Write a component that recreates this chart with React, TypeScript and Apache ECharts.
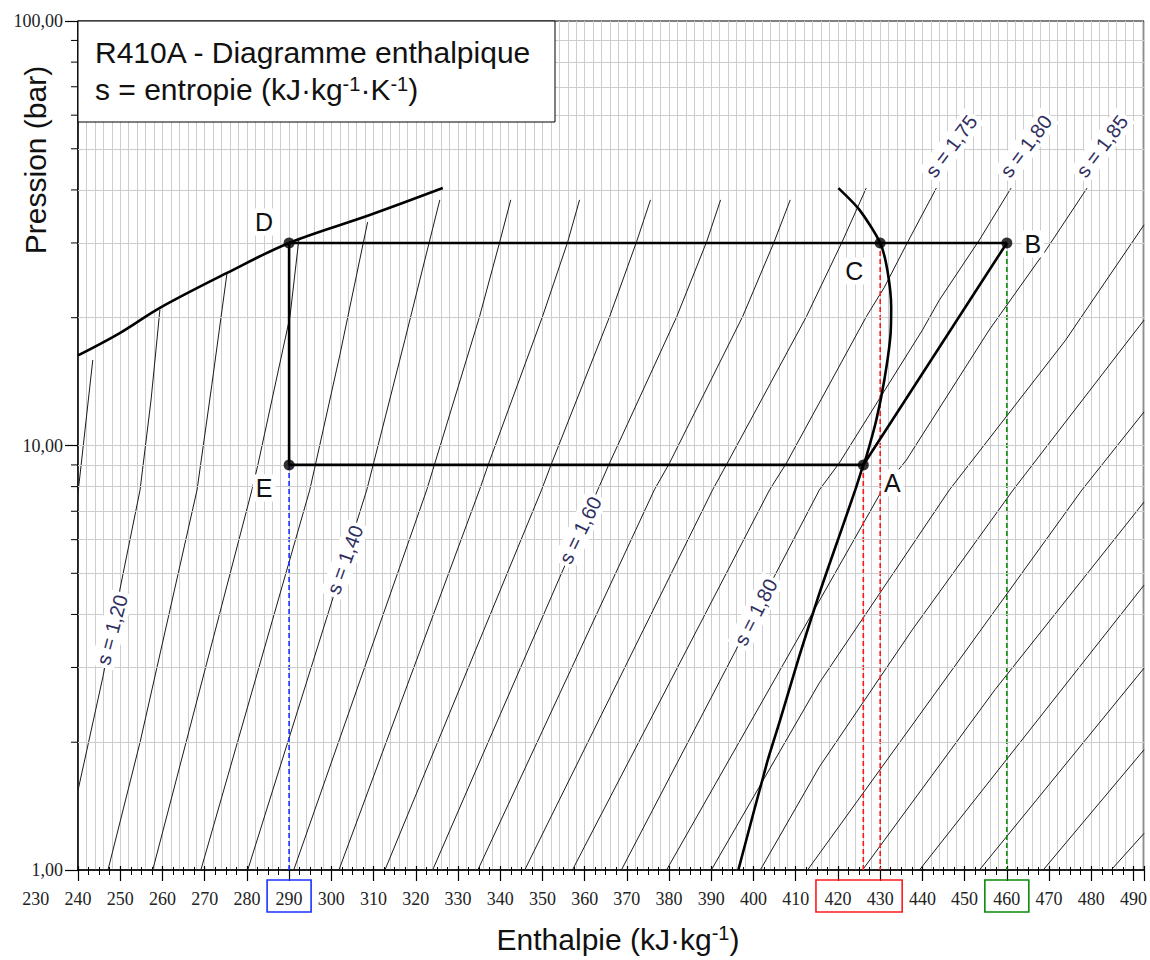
import React, { useEffect, useRef } from 'react';
import * as echarts from 'echarts';

// ---------- axes ----------
const H_MIN = 240;
const H_MAX = 492.5;
const P_MIN = 1;
const P_MAX = 100;
const H_MAJOR_STEP = 10;
const H_GRID_STEP = 2;
const H_MINOR_TICK_STEP = 2.5;
const EXTRA_H_LABEL = 230;
const P_GRID_VALUES = [2, 3, 4, 5, 6, 7, 8, 9, 10, 20, 30, 40, 50, 60, 70, 80, 90];
const P_MINOR_TICKS = [2, 3, 4, 5, 6, 7, 8, 9, 20, 30, 40, 50, 60, 70, 80, 90];

// ---------- saturation curves [h, P] ----------
const SAT_LIQUID = [[240, 16.3], [249.9, 18.4], [259.4, 21.1], [275.3, 25.5], [290, 30], [309.1, 34.9], [326.4, 40.4]];
const SAT_VAPOR = [[420.1, 40.4], [425.1, 35.9], [430, 30], [431.7, 25.9], [432.6, 21.2], [432.4, 18.0], [431.0, 14.3], [429.1, 11.5], [426.7, 9.4], [426, 9], [424.1, 7.86], [420.8, 6.32], [417.5, 5.09], [415.1, 4.33], [410.8, 3.18], [406.1, 2.22], [403.2, 1.79], [396.4, 1]];

// ---------- cycle points ----------
const CYCLE_NAMES = ['D', 'C', 'B', 'A', 'E'];
const CYCLE_H = [290, 430, 460, 426, 290];
const CYCLE_P = [30, 30, 30, 9, 9];

// ---------- isentropes [h, P] ----------
const S115 = [[240, 7.73], [243.5, 15.9]];
const S120 = [[240, 1.54], [245.9, 2.85], [249.9, 4.57], [254.7, 7.86], [257.3, 12.8], [259.4, 20.9]];
const S125 = [[247.1, 1], [254.7, 2.0], [268.2, 7.86], [271.7, 13.9], [275.3, 25.5]];
const S130 = [[257.7, 1], [281.2, 7.86], [282.6, 9.0], [290.2, 20.1], [292.3, 30.5]];
const S135 = [[269.1, 1], [294.9, 7.86], [302.0, 16.3], [308.6, 33.6]];
const S140 = [[280.2, 1], [308.4, 7.86], [317.4, 17.7], [325.7, 37.9]];
const S145 = [[291.1, 1], [322.6, 7.86], [335.1, 20.1], [339.9, 30.2], [342.5, 37.9]];
const S150 = [[301.8, 1], [335.1, 7.86], [337.3, 9.09], [350.0, 20.1], [356.0, 30.2], [358.8, 37.9]];
const S155 = [[312.7, 1], [349.8, 7.86], [352.2, 9.09], [365.9, 20.1], [372.3, 30.2], [375.6, 37.9]];
const S160 = [[324.0, 1], [363.1, 7.86], [365.9, 9.09], [381.8, 20.1], [388.9, 30.2], [392.2, 37.9]];
const S165 = [[334.7, 1], [376.5, 7.86], [380.1, 9.09], [397.4, 20.1], [404.9, 30.2], [408.7, 37.9]];
const S170 = [[345.8, 1], [390.3, 7.86], [393.8, 9.09], [412.5, 20.1], [421.0, 30.2], [426.7, 40.4]];
const S175 = [[357.1, 1], [403.8, 7.86], [407.8, 9.09], [426.7, 20.1], [431.0, 23.6], [436.4, 30.0], [443.3, 40.4]];
const S180 = [[368.7, 1], [415.6, 7.86], [420.3, 9.09], [440.0, 18.7], [444.0, 22.0], [453.5, 30.5], [461.0, 40.4]];
const S185 = [[379.4, 1], [430.5, 7.86], [436.2, 9.24], [455.8, 18.7], [469.3, 28.9], [479.0, 40.4]];
const S190 = [[390.0, 1], [415.6, 2.76], [446.4, 7.86], [473.9, 17.7], [492.5, 33.1]];
const S195 = [[401.6, 1], [415.6, 1.75], [437.6, 3.68], [461.5, 7.86], [492.5, 19.75]];
const S200 = [[412.8, 1], [477.8, 7.86], [492.5, 12.0]];
const S205 = [[425.8, 1], [457.2, 2.66], [492.5, 7.36]];
const S210 = [[439.3, 1], [492.5, 4.69]];
const S215 = [[453.5, 1], [492.5, 2.99]];
const S220 = [[468.6, 1], [492.5, 1.92]];
const S225 = [[484.7, 1], [492.5, 1.22]];

const ISENTROPES = [S115, S120, S125, S130, S135, S140, S145, S150, S155, S160, S165, S170, S175, S180, S185, S190, S195, S200, S205, S210, S215, S220, S225];

// ---------- isentrope labels ----------
const MID_LABEL_TEXTS = ['s = 1,20', 's = 1,40', 's = 1,60', 's = 1,80'];
const MID_LABEL_LINES = [S120, S140, S160, S180];
const MID_LABEL_P = [3.68, 5.38, 6.32, 4.05];
const MID_LABEL_ANGLES = [75, 70, 64, 63];
const TOP_LABEL_TEXTS = ['s = 1,75', 's = 1,80', 's = 1,85'];
const TOP_LABEL_LINES = [S175, S180, S185];

// ---------- styles ----------
const SANS = '"Liberation Sans", Arial, Helvetica, sans-serif';
const SERIF = '"Liberation Serif", "Times New Roman", serif';
const GRID_COLOR = '#cdcdcd';
const LABEL_COLOR = '#2f2f5f';
const TICK_FONT = 18;

let measureCtx: CanvasRenderingContext2D | null = null;
function textWidth(t: string, size: number, family: string): number {
  if (!measureCtx && typeof document !== 'undefined') {
    measureCtx = document.createElement('canvas').getContext('2d');
  }
  if (!measureCtx) return t.length * size * 0.55;
  measureCtx.font = `${size}px ${family}`;
  return measureCtx.measureText(t).width;
}

type Run = { text: string; size: number; rise: number };
function runsWidth(runs: Run[], family: string) {
  return runs.reduce((s, r) => s + textWidth(r.text, r.size, family), 0);
}
function runElements(x0: number, baseline: number, runs: Run[], family: string, fill: string, z: number) {
  const els: any[] = [];
  let x = x0;
  for (const r of runs) {
    els.push({
      type: 'text', x, y: baseline - r.rise - 0.35 * r.size, z, silent: true,
      style: { text: r.text, fontSize: r.size, fontFamily: family, fill, align: 'left', verticalAlign: 'middle' },
    });
    x += textWidth(r.text, r.size, family);
  }
  return els;
}

function hAtP(pts: number[][], p: number): number {
  const lp = Math.log10(p);
  for (let i = 0; i < pts.length - 1; i++) {
    const la = Math.log10(pts[i][1]);
    const lb = Math.log10(pts[i + 1][1]);
    if (la !== lb && (lp - la) * (lp - lb) <= 0) {
      const t = (lp - la) / (lb - la);
      return pts[i][0] + t * (pts[i + 1][0] - pts[i][0]);
    }
  }
  return pts[pts.length - 1][0];
}

const cyc = (n: string) => {
  const i = CYCLE_NAMES.indexOf(n);
  return [CYCLE_H[i], CYCLE_P[i]];
};

const hiddenX = (extra: any) => ({
  type: 'value', min: H_MIN, max: H_MAX, position: 'bottom',
  axisLine: { show: false, onZero: false }, axisLabel: { show: false }, splitLine: { show: false },
  ...extra,
});

export default function App() {
  const ref = useRef<HTMLDivElement>(null);

  useEffect(() => {
    document.body.style.margin = '0';
    const chart = echarts.init(ref.current!, null, { renderer: 'svg' });

    const isoSeries = ISENTROPES.map((pts, i) => ({
      type: 'line', name: 'iso' + i, data: pts, symbol: 'none', showSymbol: false, silent: true, z: 3,
      xAxisIndex: 0, yAxisIndex: 0,
      lineStyle: { color: '#1c1c1c', width: 1 },
    }));

    const dashed = (from: number[], color: string) => ({
      type: 'line', data: [from, [from[0], P_MIN]], symbol: 'none', silent: true, z: 4,
      lineStyle: { color, width: 1.6, type: [5, 3] },
    });

    const option: any = {
      animation: false,
      grid: { left: 78, top: 21, width: 1067, height: 849, show: true, borderColor: '#000', borderWidth: 1, backgroundColor: 'transparent' },
      xAxis: [
        {
          type: 'value', min: H_MIN, max: H_MAX, interval: H_MAJOR_STEP, position: 'bottom',
          axisLine: { show: true, onZero: false, lineStyle: { color: '#000', width: 1.5 } },
          axisTick: { show: true, length: 11, lineStyle: { color: '#000', width: 1.2 } },
          axisLabel: {
            fontFamily: SERIF, fontSize: TICK_FONT, color: '#222', margin: 20,
            formatter: (v: number) => (Math.abs(v % 10) < 1e-6 ? String(v) : ''),
          },
          splitLine: { show: false },
        },
        hiddenX({ interval: H_GRID_STEP, axisTick: { show: false }, splitLine: { show: true, lineStyle: { color: GRID_COLOR, width: 1 } } }),
        hiddenX({ interval: H_MINOR_TICK_STEP, axisTick: { show: true, length: 5, lineStyle: { color: '#000', width: 1 } } }),
        hiddenX({ interval: H_MINOR_TICK_STEP, axisTick: { show: true, inside: true, length: 3, lineStyle: { color: '#000', width: 1 } } }),
        hiddenX({ interval: H_MAJOR_STEP, axisTick: { show: true, inside: true, length: 4, lineStyle: { color: '#000', width: 1.2 } } }),
      ],
      yAxis: [
        {
          type: 'log', logBase: 10, min: P_MIN, max: P_MAX, position: 'left',
          axisLine: { show: true, onZero: false, lineStyle: { color: '#000', width: 1.5 } },
          axisTick: { show: true, length: 13, lineStyle: { color: '#000', width: 1.2 } },
          axisLabel: {
            fontFamily: SERIF, fontSize: TICK_FONT, color: '#222', margin: 15,
            formatter: (v: number) => v.toFixed(2).replace('.', ','),
          },
          splitLine: { show: false },
        },
      ],
      series: [
        {
          type: 'line', data: [[H_MIN, P_MIN]], symbol: 'none', silent: true, z: 1,
          lineStyle: { opacity: 0 },
          markLine: {
            silent: true, symbol: ['none', 'none'], label: { show: false },
            lineStyle: { color: GRID_COLOR, width: 1, type: 'solid' },
            emphasis: { disabled: true },
            data: P_GRID_VALUES.map((v) => ({ yAxis: v })),
          },
        },
        ...isoSeries,
        { type: 'line', data: SAT_LIQUID, symbol: 'none', smooth: 0.35, silent: true, z: 5, lineStyle: { color: '#000', width: 2.6 } },
        { type: 'line', data: SAT_VAPOR, symbol: 'none', smooth: 0.25, silent: true, z: 5, lineStyle: { color: '#000', width: 2.6 } },
        dashed(cyc('E'), '#1a33ff'),
        dashed(cyc('A'), '#ff1a1a'),
        dashed(cyc('C'), '#ff1a1a'),
        dashed(cyc('B'), '#0a8a0a'),
        {
          type: 'line', data: [cyc('D'), cyc('B'), cyc('A'), cyc('E'), cyc('D')], symbol: 'none', silent: true, z: 6,
          lineStyle: { color: '#000', width: 2.6 },
        },
        {
          type: 'scatter', data: CYCLE_NAMES.map((n) => cyc(n)), symbol: 'circle', symbolSize: 11, silent: true, z: 7,
          itemStyle: { color: '#000' },
        },
      ],
    };

    chart.setOption(option);

    const toPx = (h: number, p: number) => chart.convertToPixel({ gridIndex: 0 }, [h, p]) as number[];
    const [left, bottom] = toPx(H_MIN, P_MIN);
    const [, top] = toPx(H_MAX, P_MAX);
    const els: any[] = [];

    // y minor ticks
    P_MINOR_TICKS.forEach((v) => {
      const y = toPx(H_MIN, v)[1];
      els.push({ type: 'line', z: 10, silent: true, shape: { x1: left - 7, y1: y, x2: left, y2: y }, style: { stroke: '#000', lineWidth: 1 } });
    });

    // extra tick label left of the axis
    els.push({
      type: 'text', x: toPx(EXTRA_H_LABEL, P_MIN)[0], y: bottom + 20, z: 10, silent: true,
      style: { text: String(EXTRA_H_LABEL), fontSize: TICK_FONT, fontFamily: SERIF, fill: '#222', align: 'center', verticalAlign: 'top' },
    });

    // highlight boxes around tick labels
    const boxes: [number, number, string][] = [[290, 290, '#1a33ff'], [420, 430, '#ff1a1a'], [460, 460, '#0a8a0a']];
    boxes.forEach(([a, b, c]) => {
      const x1 = toPx(a, P_MIN)[0] - 22;
      const x2 = toPx(b, P_MIN)[0] + 22;
      els.push({ type: 'rect', z: 10, silent: true, shape: { x: x1, y: bottom + 10, width: x2 - x1, height: 32 }, style: { fill: 'none', stroke: c, lineWidth: 1.6 } });
    });

    // title box
    els.push({ type: 'rect', z: 90, silent: true, shape: { x: left, y: top, width: 555 - left, height: 101 }, style: { fill: '#fff', stroke: '#000', lineWidth: 1 } });
    els.push(...runElements(left + 17, top + 42, [{ text: 'R410A - Diagramme enthalpique', size: 30, rise: 0 }], SANS, '#111', 91));
    els.push(...runElements(left + 17, top + 79, [
      { text: 's = entropie (kJ·kg', size: 30, rise: 0 },
      { text: '-1', size: 20, rise: 9 },
      { text: '·K', size: 30, rise: 0 },
      { text: '-1', size: 20, rise: 9 },
      { text: ')', size: 30, rise: 0 },
    ], SANS, '#111', 91));

    // axis titles
    const xRuns: Run[] = [
      { text: 'Enthalpie (kJ·kg', size: 30, rise: 0 },
      { text: '-1', size: 20, rise: 10 },
      { text: ')', size: 30, rise: 0 },
    ];
    const xw = runsWidth(xRuns, SANS);
    els.push(...runElements(618 - xw / 2, bottom + 80, xRuns, SANS, '#111', 20));
    els.push({
      type: 'text', x: 35, y: 160, rotation: Math.PI / 2, z: 20, silent: true,
      style: { text: 'Pression (bar)', fontSize: 30, fontFamily: SANS, fill: '#111', align: 'center', verticalAlign: 'middle' },
    });

    // cycle point labels
    const ptLabelOffsets: Record<string, number[]> = { D: [-25, -21], E: [-25, 23], A: [29, 18], C: [-26, 28], B: [26, 1] };
    CYCLE_NAMES.forEach((n, i) => {
      const [x, y] = toPx(CYCLE_H[i], CYCLE_P[i]);
      const o = ptLabelOffsets[n];
      els.push({
        type: 'text', x: x + o[0], y: y + o[1], z: 30, silent: true,
        style: { text: n, fontSize: 25, fontFamily: SANS, fill: '#111', align: 'center', verticalAlign: 'middle', backgroundColor: '#fff', padding: [1, 3] },
      });
    });

    // isentrope labels in the middle of lines
    MID_LABEL_TEXTS.forEach((t, i) => {
      const p = MID_LABEL_P[i];
      const [x, y] = toPx(hAtP(MID_LABEL_LINES[i], p), p);
      els.push({
        type: 'text', x, y, rotation: (MID_LABEL_ANGLES[i] * Math.PI) / 180, z: 25, silent: true,
        style: { text: t, fontSize: 20, fontFamily: SANS, fill: LABEL_COLOR, align: 'center', verticalAlign: 'middle', backgroundColor: '#fff', padding: [2, 3] },
      });
    });

    // isentrope labels beyond the top end of lines
    TOP_LABEL_TEXTS.forEach((t, i) => {
      const pts = TOP_LABEL_LINES[i];
      const end = pts[pts.length - 1];
      const [x, y] = toPx(end[0], end[1]);
      els.push({
        type: 'text', x: x + 15, y: y - 42, rotation: (53 * Math.PI) / 180, z: 25, silent: true,
        style: { text: t, fontSize: 20, fontFamily: SANS, fill: LABEL_COLOR, align: 'center', verticalAlign: 'middle', backgroundColor: '#fff', padding: [2, 3] },
      });
    });

    chart.setOption({ graphic: { elements: els } });

    return () => chart.dispose();
  }, []);

  return <div ref={ref} style={{ width: 1150, height: 960 }} />;
}
